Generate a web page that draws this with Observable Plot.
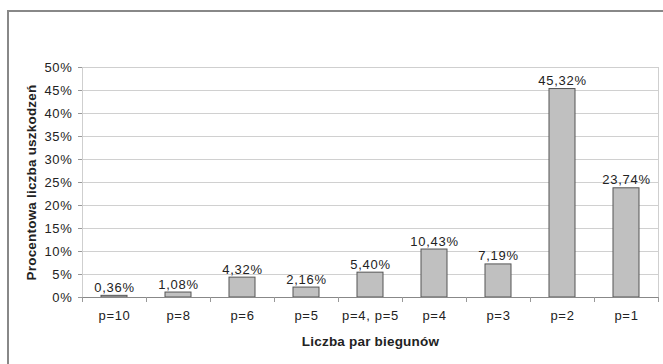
<!DOCTYPE html>
<html lang="pl">
<head>
<meta charset="utf-8">
<script src="https://cdn.jsdelivr.net/npm/d3@7"></script>
<script src="https://cdn.jsdelivr.net/npm/@observablehq/plot@0.6"></script>
<style>
  html, body { margin: 0; padding: 0; background: #fff; overflow: hidden; }
  #wrap { position: relative; width: 663px; height: 364px; overflow: hidden; }
  #border { position: absolute; left: 7px; top: 10px; width: 700px; height: 400px;
            border: 2px solid #888; box-sizing: border-box; }
  #chart { position: absolute; left: 0; top: 0; }
  svg { font-family: "Liberation Sans", Arial, sans-serif; letter-spacing: 0.7px; }
  [aria-label="y-axis label"] text, [aria-label="x-axis label"] text {
    font-weight: bold; font-size: 13.5px; letter-spacing: 0.2px;
  }
</style>
</head>
<body>
<div id="wrap">
  <div id="border"></div>
  <div id="chart"></div>
</div>
<script>
// Udział uszkodzeń silników wg liczby par biegunów
const categories = ["p=10", "p=8", "p=6", "p=5", "p=4, p=5", "p=4", "p=3", "p=2", "p=1"];
const values = [0.36, 1.08, 4.32, 2.16, 5.40, 10.43, 7.19, 45.32, 23.74];
const yTicks = [0, 5, 10, 15, 20, 25, 30, 35, 40, 45, 50];

const data = categories.map((c, i) => ({ category: c, value: values[i] }));
const fmt = v => v.toFixed(2).replace(".", ",") + "%";

const W = 663, H = 364;
const mL = 82, mR = 5, mT = 67, mB = 67;
const step = (W - mL - mR) / categories.length;

const chart = Plot.plot({
  width: W,
  height: H,
  marginLeft: mL,
  marginRight: mR,
  marginTop: mT,
  marginBottom: mB,
  style: { fontSize: "13px", color: "#222", background: "transparent" },
  x: { domain: categories, paddingInner: 0.6, paddingOuter: 0.3 },
  y: { domain: [0, 50] },
  marks: [
    Plot.gridY(yTicks, { stroke: "#d0d0d0", strokeOpacity: 1 }),
    Plot.frame({ stroke: "#cfcfcf" }),
    Plot.barY(data, { x: "category", y: "value", fill: "#c0c0c0", stroke: "#555", strokeWidth: 1 }),
    Plot.text(data, { x: "category", y: "value", text: d => fmt(d.value), lineAnchor: "bottom", dy: -4, fill: "#222", fontSize: 13 }),
    Plot.ruleY([0], { stroke: "#888" }),
    // category separators below the baseline
    Plot.ruleX(categories, { x: d => d, y1: 0, y2: 0, dx: -step / 2, insetBottom: -5, stroke: "#999" }),
    Plot.ruleX(categories.slice(-1), { x: d => d, y1: 0, y2: 0, dx: step / 2, insetBottom: -5, stroke: "#999" }),
    Plot.axisX({ tickSize: 0, tickPadding: 13, label: "Liczba par biegunów", labelAnchor: "center", labelOffset: 48, fill: "#222" }),
    Plot.axisY(yTicks, { tickSize: 4, tickPadding: 6, stroke: "#999", tickFormat: d => d + "%", label: "Procentowa liczba uszkodzeń", labelAnchor: "center", labelOffset: 56, labelArrow: "none", fill: "#222" })
  ]
});
document.getElementById("chart").appendChild(chart);
</script>
</body>
</html>
